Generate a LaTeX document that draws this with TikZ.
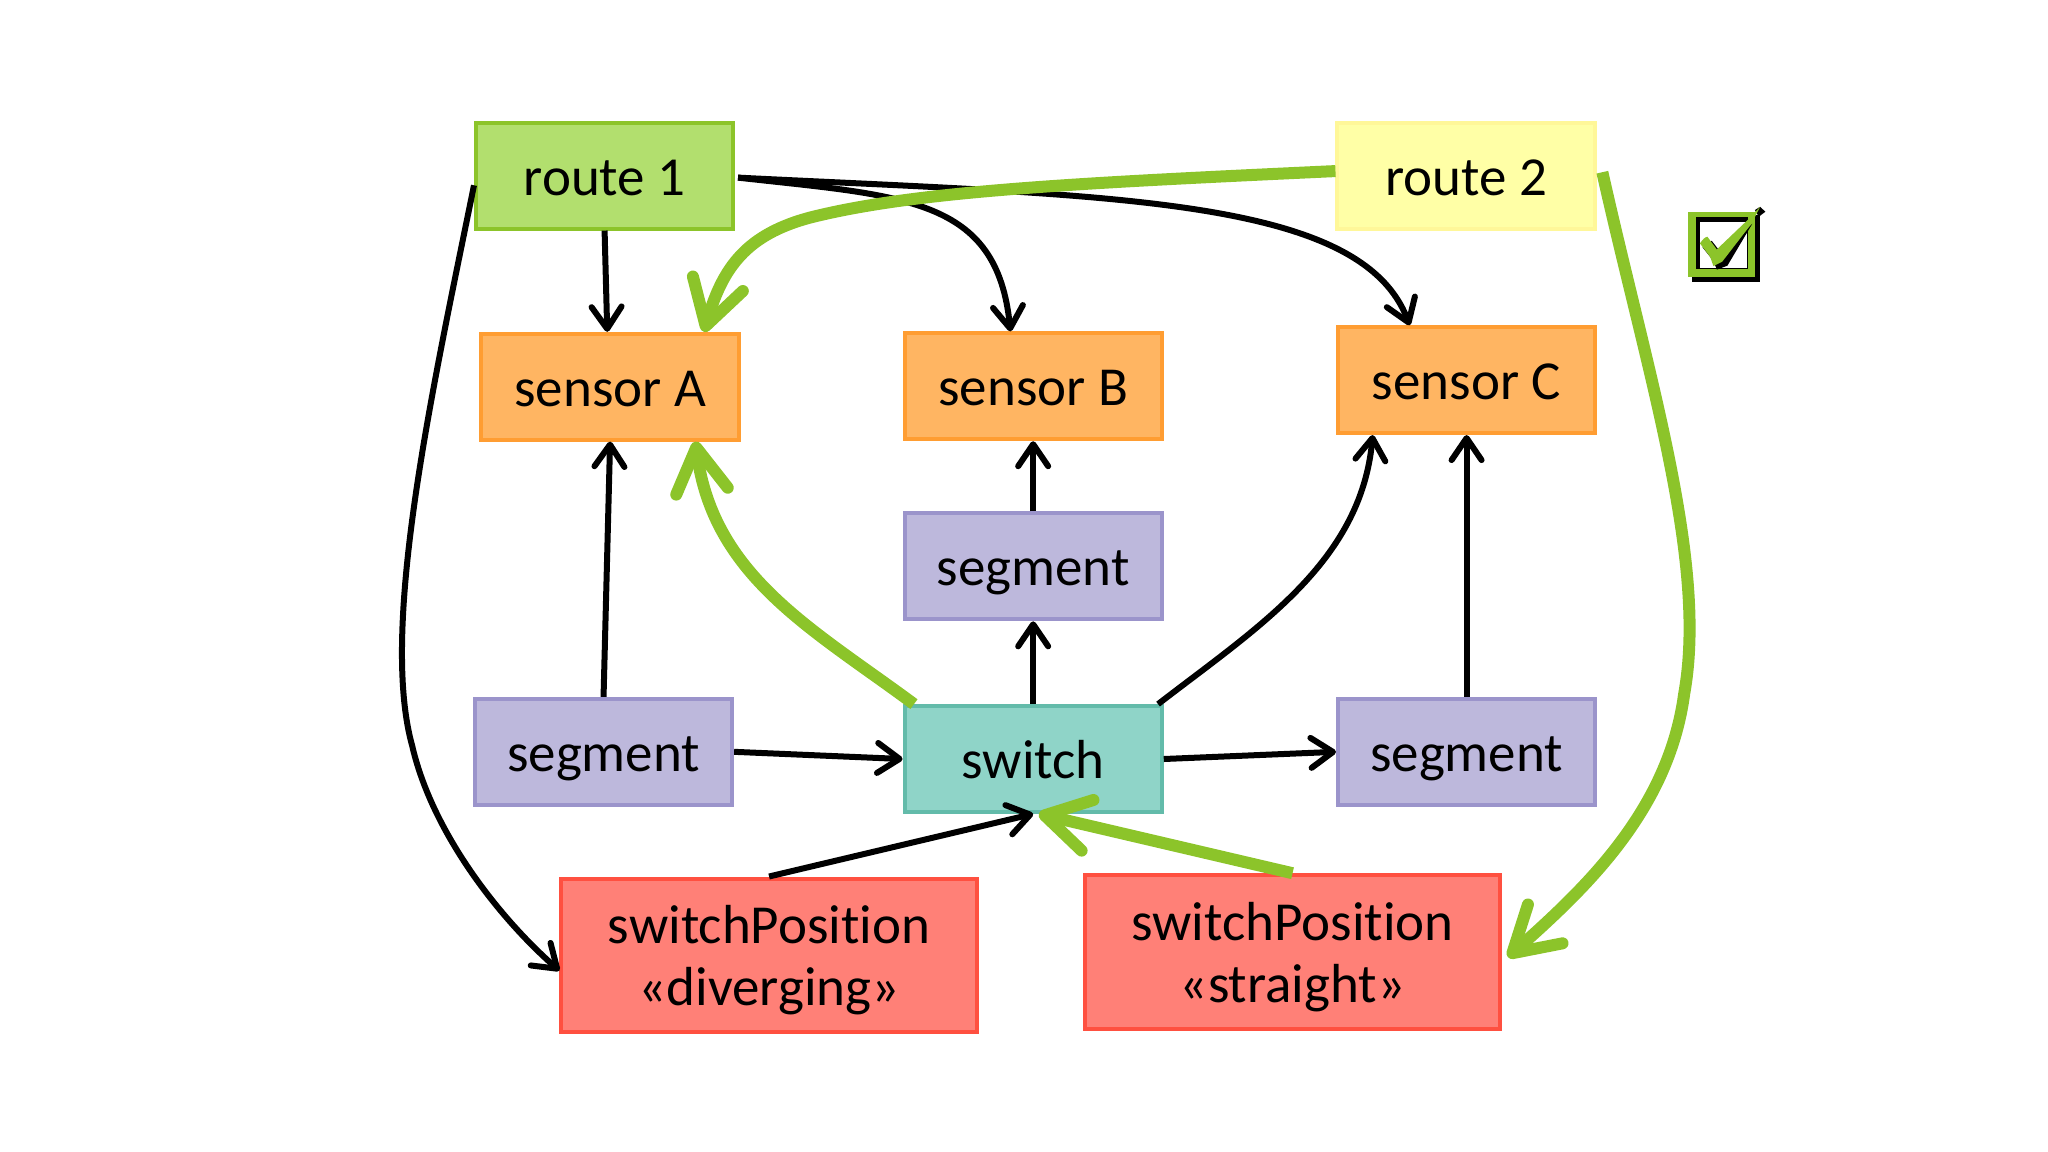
\documentclass[tikz,border=0pt]{standalone}
\usepackage{fontspec}
\setsansfont[Ligatures=NoCommon]{Carlito}
\usetikzlibrary{arrows.meta}
\usetikzlibrary{positioning}
\definecolor{routegreen}{HTML}{B2DF6E}
\definecolor{routeyellow}{HTML}{FFFFA6}
\definecolor{routeline}{HTML}{FFF799}
\definecolor{activegreen}{HTML}{8CC42A}
\definecolor{sensorfill}{HTML}{FFB562}
\definecolor{sensorline}{HTML}{FF9D32}
\definecolor{segmentfill}{HTML}{BDB8DC}
\definecolor{segmentline}{HTML}{9B94CB}
\definecolor{switchfill}{HTML}{8FD4C8}
\definecolor{switchline}{HTML}{63BBAA}
\definecolor{positionfill}{HTML}{FF8077}
\definecolor{positionline}{HTML}{FF5040}
\tikzstyle{every node}=[font=\sffamily\fontsize{27.5}{31}\selectfont]
\tikzstyle{component}=[draw, rectangle, line width=2pt, minimum width=45.2mm, minimum height=18.6mm, inner sep=0pt, align=center, text height=24pt, text depth=4.4pt]
\tikzstyle{routeone}=[component, fill=routegreen, draw=activegreen]
\tikzstyle{routetwo}=[component, fill=routeyellow, draw=routeline]
\tikzstyle{sensor}=[component, fill=sensorfill, draw=sensorline]
\tikzstyle{segment}=[component, fill=segmentfill, draw=segmentline]
\tikzstyle{switchbox}=[component, fill=switchfill, draw=switchline]
\tikzstyle{position}=[component, fill=positionfill, draw=positionline, minimum width=73mm, minimum height=27mm, text height=55pt, text depth=4.6pt]
\tikzstyle{link}=[line width=3pt, -{Straight Barb[length=11pt, width=15pt, round]}]
\tikzstyle{active}=[line width=6pt, draw=activegreen, -{Straight Barb[length=22pt, width=26pt, round]}]

\begin{document}
\begin{tikzpicture}[x=0.23mm, y=-0.23mm]
\useasboundingbox (0,0) rectangle (1565,880.3);

\node[routeone] (Route1) at (462,134.2) {route 1};
\node[routetwo, right=105.5mm of Route1] (Route2) {route 2};

\node[sensor] (SensorA) at (466.2,295.5) {sensor A};
\node[sensor] (SensorC) at (1120.7,290.5) {sensor C};

\node[segment] (SegmentL) at (461.2,574.5) {segment};
\node[switchbox] (Switch) at (789.5,580) {switch};
\node[segment] (SegmentR) at (1120.7,574.5) {segment};
\node[segment, above=14.55mm of Switch] (SegmentB) {segment};
\node[sensor, above=12.35mm of SegmentB] (SensorB) {sensor B};

\node[position] (PosDiv) at (587.7,730) {switchPosition\\«diverging»};
\node[position] (PosStr) at (987.7,727.5) {switchPosition\\«straight»};

% check mark
\fill[black] (1293,164) rectangle (1345,215.5);
\fill[black] (1341,160.5) -- (1345,158) -- (1349,161.8) -- (1344,165.6) -- cycle;
\fill[activegreen] (1290,162) rectangle (1341,212);
\fill[black] (1296,166) rectangle (1335.5,205.5);
\fill[white] (1299,170) rectangle (1335,205);
\fill[black] (1301,189) -- (1308,184) -- (1315,193) -- (1339,171) -- (1320,203) -- (1312,206) -- (1309,199) -- cycle;
\fill[activegreen] (1299,186) .. controls (1301,183) and (1303,181) .. (1304.7,180.9) -- (1311.9,190.6) -- (1336,167.6) -- (1345,158) -- (1338.6,170.7) -- (1316,200) -- (1309.3,203.3) -- (1306.8,196.2) -- cycle;

% black links
\draw[link] (Route1.south) -- ([xshift=-0.5mm] SensorA.north);
\draw[link] ([xshift=0.5mm, yshift=-0.35mm] Route1.east) .. controls (690,150) and (762,150) .. ([xshift=-4mm] SensorB.north);
\draw[link] ([xshift=0.5mm, yshift=-0.35mm] Route1.east) .. controls (850,150) and (1040,150) .. ([xshift=-10mm] SensorC.north);
\draw[link] ([yshift=-1.7mm] Route1.west) .. controls (330,300) and (290,480) .. (315,570) .. controls (330,635) and (380,700) .. ([yshift=-2.7mm] PosDiv.west);
\draw[link] (SegmentL.north) -- (SensorA.south);
\draw[link] (SegmentL.east) -- (Switch.west);
\draw[link] (Switch.north) -- (SegmentB.south);
\draw[link] (SegmentB.north) -- (SensorB.south);
\draw[link] ([xshift=-1mm] Switch.north east) .. controls (960,480) and (1040,430) .. ([xshift=-16.5mm] SensorC.south);
\draw[link] (SegmentR.north) -- (SensorC.south);
\draw[link] (Switch.east) -- (SegmentR.west);
\draw[link] (PosDiv.north) -- (Switch.south);

% active route
\draw[active] ([yshift=0.8mm] Route2.west) .. controls (820,140) and (700,146) .. (620,166) .. controls (570,179) and (552,205) .. ([xshift=16.5mm] SensorA.north);
\draw[active] ([xshift=1mm, yshift=0.6mm] Route2.east) .. controls (1260,290) and (1305,430) .. (1287,530) .. controls (1275,620) and (1210,680) .. ([xshift=1mm, yshift=-0.9mm] PosStr.east);
\draw[active] ([xshift=2mm] Switch.north west) .. controls (620,480) and (545,440) .. ([xshift=15mm] SensorA.south);
\draw[active] (PosStr.north) -- ([xshift=1mm] Switch.south);

\end{tikzpicture}
\end{document}
